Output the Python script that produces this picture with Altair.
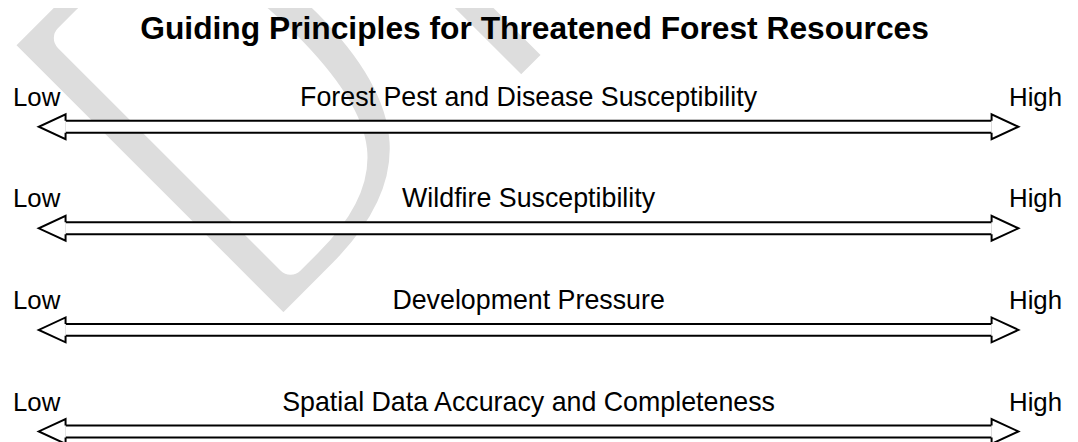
import altair as alt
import pandas as pd

# ---- data -------------------------------------------------------------
title_text = "Guiding Principles for Threatened Forest Resources"
factors = [
    "Forest Pest and Disease Susceptibility",
    "Wildfire Susceptibility",
    "Development Pressure",
    "Spatial Data Accuracy and Completeness",
]
low_label = "Low"
high_label = "High"
scale_low = 0.0
scale_high = 1.0
watermark_text = "DRAFT"

df = pd.DataFrame({
    "factor": factors,
    "low": [scale_low] * len(factors),
    "high": [scale_high] * len(factors),
    "low_label": [low_label] * len(factors),
    "high_label": [high_label] * len(factors),
})

# ---- layout / style ----------------------------------------------------
W, H = 1070, 434
FONT = "Liberation Sans"
HEAD_LEN = 27
LEFT_HEAD = "M 2.16 -0.48 L 2.16 -1 L 0 0 L 2.16 1 L 2.16 0.48"
RIGHT_HEAD = "M -2.16 -0.48 L -2.16 -1 L 0 0 L -2.16 1 L -2.16 0.48"

xscale = alt.Scale(domain=[scale_low, scale_high], range=[31, 1018])
yscale = alt.Scale(type="point", range=[118, 425], padding=0)
Y = alt.Y("factor:N", sort=factors, scale=yscale, axis=None)

base = alt.Chart(df)

watermark = alt.Chart(pd.DataFrame({"w": [watermark_text]})).mark_text(
    font="DejaVu Sans Mono", fontSize=560, angle=315,
    align="left", baseline="alphabetic", color="#dddddd",
    stroke="white", strokeWidth=28, strokeJoin="round",
).encode(text="w:N", x=alt.value(251), y=alt.value(351))

shaft_outer = base.mark_rule(
    color="black", strokeWidth=14, xOffset=HEAD_LEN, x2Offset=-HEAD_LEN
).encode(x=alt.X("low:Q", scale=xscale, axis=None), x2="high:Q", y=Y)

shaft_inner = base.mark_rule(
    color="white", strokeWidth=10, xOffset=HEAD_LEN, x2Offset=-HEAD_LEN
).encode(x=alt.X("low:Q", scale=xscale, axis=None), x2="high:Q", y=Y)

left_head = base.mark_point(
    shape=LEFT_HEAD, size=625, filled=True, fill="white",
    stroke="black", strokeWidth=2, opacity=1,
).encode(x=alt.X("low:Q", scale=xscale, axis=None), y=Y)

right_head = base.mark_point(
    shape=RIGHT_HEAD, size=625, filled=True, fill="white",
    stroke="black", strokeWidth=2, opacity=1,
).encode(x=alt.X("high:Q", scale=xscale, axis=None), y=Y)

low_text = base.mark_text(
    font=FONT, fontSize=26, align="left", baseline="alphabetic",
    dx=-26, dy=-21, color="black",
).encode(x=alt.X("low:Q", scale=xscale, axis=None), y=Y, text="low_label:N")

high_text = base.mark_text(
    font=FONT, fontSize=26, align="right", baseline="alphabetic",
    dx=44, dy=-21, color="black",
).encode(x=alt.X("high:Q", scale=xscale, axis=None), y=Y, text="high_label:N")

mid_text = base.transform_calculate(
    mid="(datum.low + datum.high) / 2"
).mark_text(
    font=FONT, fontSize=27, align="center", baseline="alphabetic",
    dy=-21, color="black",
).encode(x=alt.X("mid:Q", scale=xscale, axis=None), y=Y, text="factor:N")

title = alt.Chart(pd.DataFrame({"t": [title_text]})).mark_text(
    font=FONT, fontSize=32, fontWeight="bold", align="center",
    baseline="alphabetic", color="black",
).encode(text="t:N", x=alt.value(530.5), y=alt.value(29.5))

chart = alt.layer(
    watermark, shaft_outer, shaft_inner, left_head, right_head,
    low_text, mid_text, high_text, title,
).properties(
    width=W, height=H, padding=0,
    autosize=alt.AutoSizeParams(type="none"),
    background="white",
).configure_view(stroke=None)

chart.save("out.html", embed_options={"renderer": "svg", "actions": False})
